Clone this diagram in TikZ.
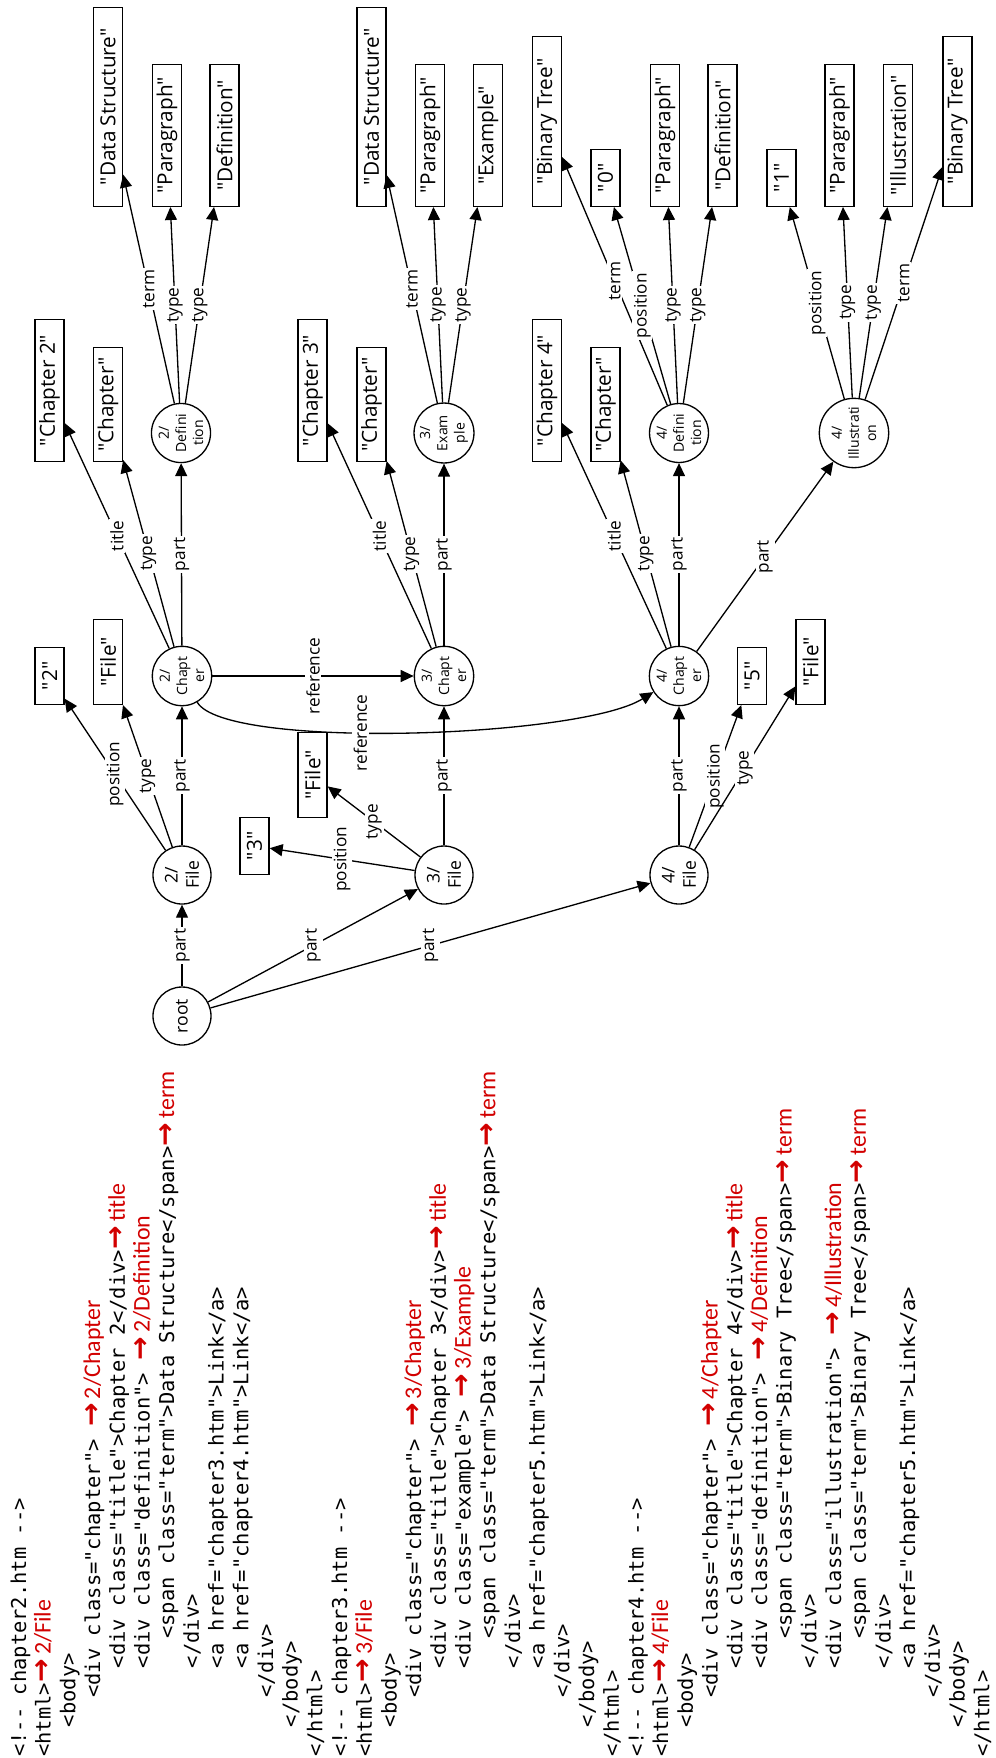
\documentclass[tikz,border=0pt]{standalone}
\usepackage{fontspec}
\usetikzlibrary{arrows.meta}
\newfontfamily\graphfont{Open Sans}
\newfontfamily\codefont{DejaVu Sans Mono}
\newfontfamily\notefont{Carlito}
\newfontfamily\arrowfont{DejaVu Sans}
\definecolor{notered}{RGB}{210,0,0}
% red annotation after a line of markup
\newcommand{\htmlnote}[1]{{\color{notered}\fontsize{16}{16}\selectfont\arrowfont\bfseries →\kern2.5pt\fontsize{13.6}{16}\selectfont\notefont\mdseries #1}}
% one line of the listing: number, indent level, text
\newcommand{\codeline}[3]{\node[code] (l#1) at ({1.3+24.7*#1},{1757-29.5*#2}) {#3};}

\begin{document}
\begin{tikzpicture}[x=0.2mm, y=-0.2mm,
  obj/.style={circle, draw, line width=.75pt, minimum size=11.6mm, inner sep=0pt,
    align=center, rotate=90, font=\graphfont\fontsize{8}{9.8}\selectfont},
  bigobj/.style={obj, font=\graphfont\fontsize{10}{12}\selectfont},
  val/.style={draw, line width=.75pt, minimum height=5.8mm, inner sep=0pt,
    rotate=90, anchor=west, font=\graphfont\fontsize{11.8}{14}\selectfont},
  rel/.style={-{Triangle[length=2.6mm,width=2.4mm]}, line width=.75pt},
  lbl/.style={fill=white, inner sep=1pt, rotate=90, font=\graphfont\fontsize{9.8}{11}\selectfont},
  code/.style={rotate=90, anchor=base west, inner sep=0pt, font=\codefont\fontsize{11.63}{14}\selectfont}]
  \useasboundingbox (0,0) rectangle (995,1758);

  % resources
  \node[bigobj] (root) at (182,1016) {root};
  \node[bigobj] (f2) at (182,875) {2/\\File};
  \node[bigobj] (f3) at (444,875) {3/\\File};
  \node[bigobj] (f4) at (679,875) {4/\\File};
  \node[obj] (c2) at (182,676) {2/\\Chapt\\er};
  \node[obj] (c3) at (444,676) {3/\\Chapt\\er};
  \node[obj] (c4) at (679,676) {4/\\Chapt\\er};
  \node[obj] (d2) at (181,433) {2/\\Defini\\tion};
  \node[obj] (e3) at (444,433) {3/\\Exam\\ple};
  \node[obj] (d4) at (679,433) {4/\\Defini\\tion};
  \node[obj] (i4) at (854,433) {4/\\Illustrati\\on};

  % literals, chapter 2
  \node[val, minimum width=11.4mm] (po2) at (49.5,705) {"2"};
  \node[val, minimum width=17mm] (fi2) at (108,705) {"File"};
  \node[val, minimum width=28.4mm] (ti2) at (49.5,462) {"Chapter 2"};
  \node[val, minimum width=22.8mm] (ty2) at (108,462) {"Chapter"};
  \node[val, minimum width=39.8mm] (ds2) at (108,207) {"Data Structure"};
  \node[val, minimum width=28.4mm] (pa2) at (167,207) {"Paragraph"};
  \node[val, minimum width=28.4mm] (de2) at (224.5,207) {"Definition"};

  % literals, chapter 3
  \node[val, minimum width=11.4mm] (po3) at (254.5,875) {"3"};
  \node[val, minimum width=17mm] (fi3) at (312.5,818) {"File"};
  \node[val, minimum width=28.4mm] (ti3) at (312.5,462) {"Chapter 3"};
  \node[val, minimum width=22.8mm] (ty3) at (371.5,462) {"Chapter"};
  \node[val, minimum width=39.8mm] (ds3) at (371.5,207) {"Data Structure"};
  \node[val, minimum width=28.4mm] (pa3) at (430,207) {"Paragraph"};
  \node[val, minimum width=28.4mm] (ex3) at (488,207) {"Example"};

  % literals, chapter 4
  \node[val, minimum width=11.4mm] (po4) at (752,705) {"5"};
  \node[val, minimum width=17mm] (fi4) at (810.5,705) {"File"};
  \node[val, minimum width=28.4mm] (ti4) at (547,462) {"Chapter 4"};
  \node[val, minimum width=22.8mm] (ty4) at (605.5,462) {"Chapter"};
  \node[val, minimum width=34mm] (bt4) at (547,207) {"Binary Tree"};
  \node[val, minimum width=11.4mm] (zr4) at (605.5,207) {"0"};
  \node[val, minimum width=28.4mm] (pa4) at (665,207) {"Paragraph"};
  \node[val, minimum width=28.4mm] (de4) at (722.5,207) {"Definition"};
  \node[val, minimum width=11.4mm] (on4) at (781.5,207) {"1"};
  \node[val, minimum width=28.4mm] (pb4) at (839.5,207) {"Paragraph"};
  \node[val, minimum width=28.4mm] (il4) at (898,207) {"Illustration"};
  \node[val, minimum width=34mm] (bu4) at (957.5,207) {"Binary Tree"};

  % relations
  \draw[rel] (root) -- node[lbl] {part} (f2);
  \draw[rel] (root) -- node[lbl] {part} (f3);
  \draw[rel] (root) -- node[lbl] {part} (f4);

  \draw[rel] (f2) -- node[lbl] {part} (c2);
  \draw[rel] (f2) -- node[lbl] {position} (po2);
  \draw[rel] (f2) -- node[lbl] {type} (fi2);
  \draw[rel] (c2) -- node[lbl] {title} (ti2);
  \draw[rel] (c2) -- node[lbl] {type} (ty2);
  \draw[rel] (c2) -- node[lbl] {part} (d2);
  \draw[rel] (c2) -- node[lbl] {reference} (c3);
  \draw[rel] (c2) .. controls (225,750) and (580,738) .. node[lbl, pos=0.42] {reference} (c4);
  \draw[rel] (d2) -- node[lbl] {term} (ds2);
  \draw[rel] (d2) -- node[lbl] {type} (pa2);
  \draw[rel] (d2) -- node[lbl] {type} (de2);

  \draw[rel] (f3) -- node[lbl] {part} (c3);
  \draw[rel] (f3) -- node[lbl] {position} (po3);
  \draw[rel] (f3) -- node[lbl] {type} (fi3);
  \draw[rel] (c3) -- node[lbl] {title} (ti3);
  \draw[rel] (c3) -- node[lbl] {type} (ty3);
  \draw[rel] (c3) -- node[lbl] {part} (e3);
  \draw[rel] (e3) -- node[lbl] {term} (ds3);
  \draw[rel] (e3) -- node[lbl] {type} (pa3);
  \draw[rel] (e3) -- node[lbl] {type} (ex3);

  \draw[rel] (f4) -- node[lbl] {part} (c4);
  \draw[rel] (f4) -- node[lbl] {position} (po4);
  \draw[rel] (f4) -- node[lbl] {type} (fi4);
  \draw[rel] (c4) -- node[lbl] {title} (ti4);
  \draw[rel] (c4) -- node[lbl] {type} (ty4);
  \draw[rel] (c4) -- node[lbl] {part} (d4);
  \draw[rel] (c4) -- node[lbl] {part} (i4);
  \draw[rel] (d4) -- node[lbl] {term} (bt4);
  \draw[rel] (d4) -- node[lbl] {position} (zr4);
  \draw[rel] (d4) -- node[lbl] {type} (pa4);
  \draw[rel] (d4) -- node[lbl] {type} (de4);
  \draw[rel] (i4) -- node[lbl] {position} (on4);
  \draw[rel] (i4) -- node[lbl] {type} (pb4);
  \draw[rel] (i4) -- node[lbl] {type} (il4);
  \draw[rel] (i4) -- node[lbl] {term} (bu4);

  % listing
  \codeline{1}{0}{<!-\kern0pt- chapter2.htm -\kern0pt->}
  \codeline{2}{0}{<html>\htmlnote{2/File}}
  \codeline{3}{1}{<body>}
  \codeline{4}{2}{<div class="chapter"> \htmlnote{2/Chapter}}
  \codeline{5}{3}{<div class="title">Chapter 2</div>\htmlnote{title}}
  \codeline{6}{3}{<div class="definition"> \htmlnote{2/Definition}}
  \codeline{7}{4}{<span class="term">Data Structure</span>\htmlnote{term}}
  \codeline{8}{3}{</div>}
  \codeline{9}{3}{<a href="chapter3.htm">Link</a>}
  \codeline{10}{3}{<a href="chapter4.htm">Link</a>}
  \codeline{11}{2}{</div>}
  \codeline{12}{1}{</body>}
  \codeline{13}{0}{</html>}
  \codeline{14}{0}{<!-\kern0pt- chapter3.htm -\kern0pt->}
  \codeline{15}{0}{<html>\htmlnote{3/File}}
  \codeline{16}{1}{<body>}
  \codeline{17}{2}{<div class="chapter"> \htmlnote{3/Chapter}}
  \codeline{18}{3}{<div class="title">Chapter 3</div>\htmlnote{title}}
  \codeline{19}{3}{<div class="example"> \htmlnote{3/Example}}
  \codeline{20}{4}{<span class="term">Data Structure</span>\htmlnote{term}}
  \codeline{21}{3}{</div>}
  \codeline{22}{3}{<a href="chapter5.htm">Link</a>}
  \codeline{23}{2}{</div>}
  \codeline{24}{1}{</body>}
  \codeline{25}{0}{</html>}
  \codeline{26}{0}{<!-\kern0pt- chapter4.htm -\kern0pt->}
  \codeline{27}{0}{<html>\htmlnote{4/File}}
  \codeline{28}{1}{<body>}
  \codeline{29}{2}{<div class="chapter"> \htmlnote{4/Chapter}}
  \codeline{30}{3}{<div class="title">Chapter 4</div>\htmlnote{title}}
  \codeline{31}{3}{<div class="definition"> \htmlnote{4/Definition}}
  \codeline{32}{4}{<span class="term">Binary Tree</span>\htmlnote{term}}
  \codeline{33}{3}{</div>}
  \codeline{34}{3}{<div class="illustration"> \htmlnote{4/Illustration}}
  \codeline{35}{4}{<span class="term">Binary Tree</span>\htmlnote{term}}
  \codeline{36}{3}{</div>}
  \codeline{37}{3}{<a href="chapter5.htm">Link</a>}
  \codeline{38}{2}{</div>}
  \codeline{39}{1}{</body>}
  \codeline{40}{0}{</html>}
\end{tikzpicture}
\end{document}
